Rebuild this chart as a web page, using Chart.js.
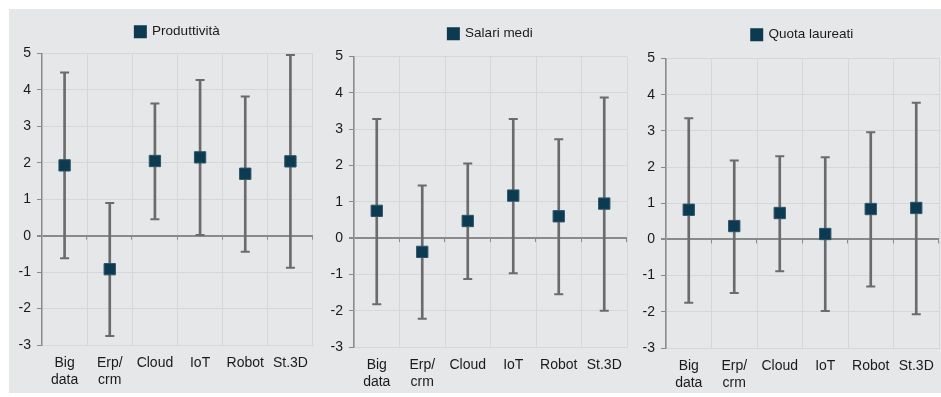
<!DOCTYPE html>
<html>
<head>
<meta charset="utf-8">
<script src="https://cdn.jsdelivr.net/npm/chart.js@4.4.1/dist/chart.umd.min.js"></script>
<style>
  html, body { margin: 0; padding: 0; background: #fff; }
  #wrap {
    position: absolute; left: 9px; top: 9px; width: 932px; height: 384px;
    background: #e6e7e8;
  }
  .panel { position: absolute; top: 0; height: 384px; }
</style>
</head>
<body>
<div id="wrap">
  <div class="panel" style="left:0;width:307px"><canvas id="c0"></canvas></div>
  <div class="panel" style="left:307px;width:312px"><canvas id="c1"></canvas></div>
  <div class="panel" style="left:619px;width:313px"><canvas id="c2"></canvas></div>
</div>
<script>
// categories
const categories = [['Big', 'data'], ['Erp/', 'crm'], 'Cloud', 'IoT', 'Robot', 'St.3D'];
const yTicks = { min: -3, max: 5, step: 1 };

// Produttività
const prodValues = [1.93, -0.92, 2.05, 2.15, 1.70, 2.04];
const prodLow    = [-0.62, -2.75, 0.45, 0.02, -0.44, -0.88];
const prodHigh   = [4.48, 0.90, 3.63, 4.27, 3.82, 4.96];

// Salari medi
const salValues = [0.75, -0.38, 0.47, 1.17, 0.60, 0.95];
const salLow    = [-1.82, -2.22, -1.13, -0.97, -1.55, -2.00];
const salHigh   = [3.28, 1.45, 2.05, 3.28, 2.72, 3.87];

// Quota laureati
const laurValues = [0.82, 0.37, 0.73, 0.15, 0.84, 0.87];
const laurLow    = [-1.75, -1.48, -0.88, -1.98, -1.30, -2.07];
const laurHigh   = [3.35, 2.18, 2.30, 2.27, 2.96, 3.78];

const panels = [
  { name: 'Produttività', values: prodValues, low: prodLow, high: prodHigh },
  { name: 'Salari medi', values: salValues, low: salLow, high: salHigh },
  { name: 'Quota laureati', values: laurValues, low: laurLow, high: laurHigh }
];

// layout per panel (y axis width, x axis height, paddings, extra space under legend)
const layouts = [
  { yw: 33, xh: 48, top: 6, right: 3, lgExtra: 5 },
  { yw: 38, xh: 46, top: 8, right: 1, lgExtra: 6 },
  { yw: 38, xh: 45, top: 9, right: 2, lgExtra: 7 }
];

const navy = '#0c3a50';
const barGray = '#6b6b6b';
const axisGray = '#8a8a8a';
const font = { family: 'Liberation Sans, Arial, sans-serif', size: 14 };

// legend: extra gap below it, and centred over the plot area
const legendTweak = {
  id: 'legendTweak',
  beforeUpdate(chart, args, opts) {
    const lg = chart.legend;
    if (!lg || lg._tweaked) return;
    const fit = lg.fit;
    lg.fit = function () {
      fit.call(this);
      this.height += opts.extra || 0;
    };
    lg._tweaked = true;
  },
  afterLayout(chart) {
    const lg = chart.legend;
    if (!lg) return;
    const w = lg.width;
    const cx = (chart.chartArea.left + chart.chartArea.right) / 2;
    lg.left = cx - w / 2;
    lg.right = cx + w / 2;
  }
};

// small tick marks hanging under the zero line at each category boundary
const zeroTicks = {
  id: 'zeroTicks',
  beforeDatasetsDraw(chart) {
    const x = chart.scales.x, y = chart.scales.y, ctx = chart.ctx;
    const y0 = y.getPixelForValue(0);
    const half = (x.getPixelForValue(1) - x.getPixelForValue(0)) / 2;
    ctx.save();
    ctx.strokeStyle = axisGray;
    ctx.lineWidth = 1;
    ctx.beginPath();
    for (let k = 0; k < categories.length; k++) {
      const px = Math.round(x.getPixelForValue(k) + half) - 0.5;
      ctx.moveTo(px, y0);
      ctx.lineTo(px, y0 + 4);
    }
    ctx.stroke();
    ctx.restore();
  }
};

panels.forEach((p, i) => {
  const lay = layouts[i];
  new Chart(document.getElementById('c' + i), {
    type: 'bar',
    plugins: [legendTweak, zeroTicks],
    data: {
      labels: categories,
      datasets: [
        {
          type: 'line',
          label: p.name,
          data: p.values,
          showLine: false,
          pointStyle: 'rect',
          pointRadius: 8,
          pointHoverRadius: 8,
          pointBackgroundColor: navy,
          pointBorderColor: '#2c5569',
          pointBorderWidth: 1,
          backgroundColor: navy,
          borderColor: navy,
          order: 0
        },
        {
          type: 'line',
          label: 'high',
          data: p.high,
          showLine: false,
          pointStyle: 'line',
          pointRadius: 4.5,
          pointBorderWidth: 2,
          pointBorderColor: barGray,
          order: 1
        },
        {
          type: 'line',
          label: 'low',
          data: p.low,
          showLine: false,
          pointStyle: 'line',
          pointRadius: 4.5,
          pointBorderWidth: 2,
          pointBorderColor: barGray,
          order: 1
        },
        {
          label: 'range',
          data: p.low.map((l, k) => [l, p.high[k]]),
          backgroundColor: barGray,
          borderWidth: 0,
          barThickness: 2,
          order: 2
        }
      ]
    },
    options: {
      responsive: true,
      maintainAspectRatio: false,
      animation: false,
      events: [],
      layout: { autoPadding: false, padding: { top: lay.top, right: lay.right, left: 0, bottom: 0 } },
      plugins: {
        tooltip: { enabled: false },
        legendTweak: { extra: lay.lgExtra },
        legend: {
          position: 'top',
          labels: {
            filter: item => item.datasetIndex === 0,
            boxWidth: 10,
            boxHeight: 10,
            color: '#1a1a1a',
            font: { family: font.family, size: 13.5 },
            padding: 10
          }
        }
      },
      scales: {
        x: {
          offset: true,
          afterFit: s => { s.height = lay.xh; s.paddingLeft = 0; s.paddingRight = 0; },
          grid: {
            offset: true,
            color: '#d6d7d8',
            drawTicks: false
          },
          border: { color: '#d6d7d8' },
          ticks: { color: '#1a1a1a', font: font, padding: 10, maxRotation: 0, autoSkip: false }
        },
        y: {
          min: yTicks.min,
          max: yTicks.max,
          afterFit: s => { s.width = lay.yw; s.paddingTop = 0; s.paddingBottom = 0; },
          grid: {
            color: c => (c.tick && c.tick.value === 0) ? axisGray : '#d6d7d8',
            lineWidth: c => (c.tick && c.tick.value === 0) ? 2 : 1,
            tickColor: axisGray,
            tickLength: 5
          },
          border: { color: axisGray, width: 1.5 },
          ticks: { stepSize: yTicks.step, color: '#1a1a1a', font: font, padding: 6 }
        }
      }
    }
  });
});
</script>
</body>
</html>
